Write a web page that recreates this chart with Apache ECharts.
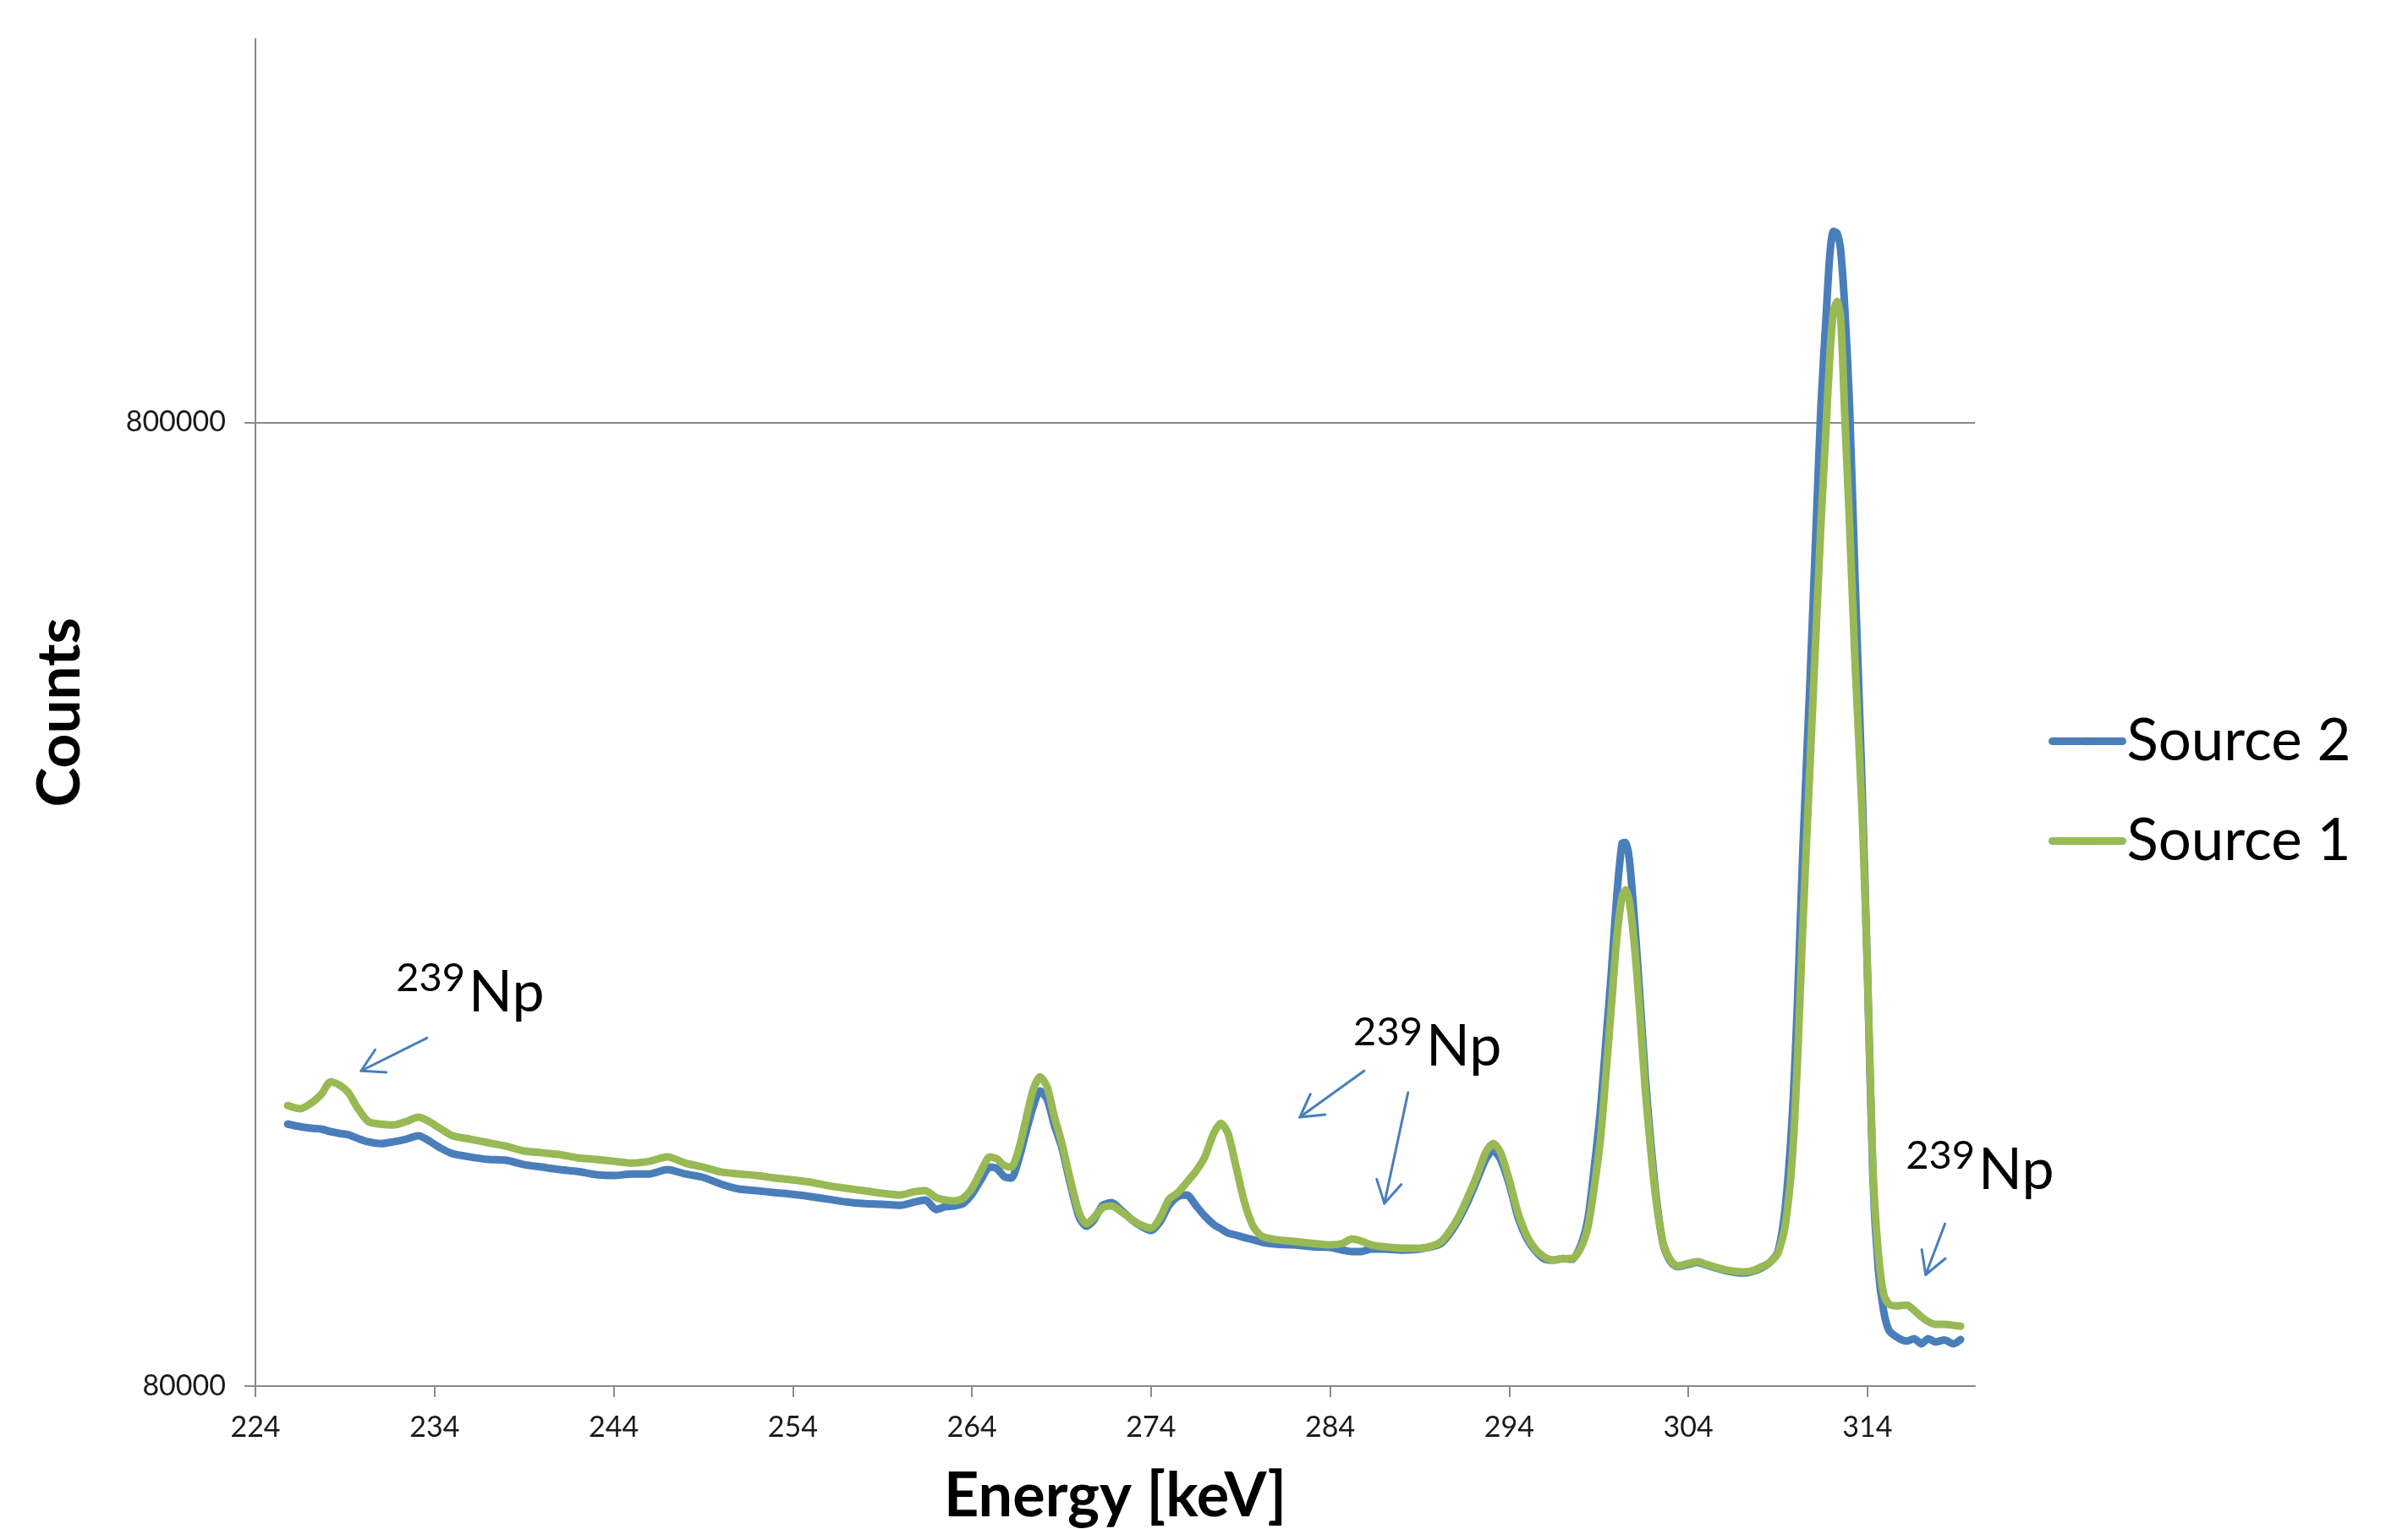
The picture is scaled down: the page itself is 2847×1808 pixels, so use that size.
<!DOCTYPE html>
<html>
<head>
<meta charset="utf-8">
<script src="https://cdn.jsdelivr.net/npm/echarts@6.0.0/dist/echarts.min.js"></script>
<style>
  html, body { margin: 0; padding: 0; background: #fff; }
  #chart { width: 2847px; height: 1808px; }
</style>
</head>
<body>
<div id="chart"></div>
<script>
// energies (keV) shared by both spectra
const energy = [
  225.8, 226.5, 227.2, 227.7, 228.2, 228.7, 229.2, 229.7, 230.3, 231.0,
  231.7, 232.4, 233.1, 233.7, 234.3, 235.0, 236.0, 237.0, 238.0, 239.0,
  240.0, 241.0, 242.0, 243.0, 244.0, 245.0, 246.0, 247.0, 248.0, 249.0,
  250.0, 251.0, 252.0, 253.0, 254.0, 255.0, 256.0, 257.0, 258.0, 259.0,
  260.0, 260.8, 261.4, 262.0, 262.5, 263.0, 263.5, 264.0, 264.5, 265.0,
  265.4, 265.8, 266.2, 266.6, 267.0, 267.4, 267.8, 268.2, 268.6, 269.0,
  269.5, 270.0, 270.4, 270.8, 271.3, 271.8, 272.3, 272.8, 273.3, 274.0,
  274.5, 275.0, 275.5, 276.0, 276.5, 277.0, 277.5, 277.9, 278.3, 278.7,
  279.2, 279.7, 280.2, 281.0, 282.0, 283.0, 284.0, 284.7, 285.2, 285.7,
  286.3, 287.0, 288.0, 289.0, 289.7, 290.2, 290.7, 291.2, 291.7, 292.2,
  292.7, 293.1, 293.5, 294.0, 294.5, 295.0, 295.5, 296.0, 296.5, 297.0,
  297.5, 298.0, 298.4, 298.8, 299.1, 299.4, 299.7, 300.0, 300.3, 300.5,
  300.7, 301.0, 301.3, 301.6, 301.9, 302.2, 302.6, 303.0, 303.4, 304.0,
  304.5, 305.0, 306.0, 307.0, 307.5, 308.1, 308.6, 309.0, 309.4, 309.8,
  310.1, 310.4, 310.8, 311.1, 311.4, 311.7, 311.9, 312.1, 312.3, 312.5,
  312.75, 313.0, 313.3, 313.7, 314.0, 314.3, 314.6, 314.9, 315.2, 315.7,
  316.2, 316.6, 317.0, 317.4, 317.8, 318.3, 318.8, 319.2
];

const source2 = [
  149600, 148700, 148100, 147800, 146900, 146300, 145800, 144600, 143400, 142800,
  143400, 144300, 145500, 143700, 141400, 139400, 138300, 137500, 137200, 135800,
  135000, 134200, 133600, 132600, 132300, 132800, 132800, 134200, 132800, 131700,
  129600, 128100, 127600, 127000, 126500, 125800, 125000, 124200, 123700, 123500,
  123200, 124200, 124800, 122000, 122800, 123000, 123700, 126500, 130900, 135000,
  134500, 132000, 131500, 137200, 146300, 155500, 161900, 158700, 149300, 141900,
  129600, 119600, 117200, 118900, 123200, 124000, 122000, 119600, 117700, 116000,
  118400, 123200, 125800, 126300, 123200, 120100, 117700, 116500, 115300, 114800,
  114100, 113500, 112800, 112300, 112100, 111600, 111400, 110700, 110300, 110300,
  111000, 111000, 110700, 111000, 111600, 112500, 115300, 119300, 124500, 130900,
  137700, 140500, 137700, 129600, 119600, 113700, 110300, 108300, 108100, 108500,
  108300, 112100, 119600, 137700, 155500, 182800, 214800, 257600, 292600, 293200,
  282100, 242500, 202200, 166900, 143400, 125800, 112100, 107700, 106400, 107000,
  107500, 106800, 105500, 104800, 105100, 106100, 107700, 110300, 122000, 152400,
  202200, 290800, 435600, 601700, 831300, 1038200, 1195700, 1262800, 1257600, 1207900,
  1038200, 831300, 555100, 335000, 214800, 132300, 105900, 95800, 91400, 89800,
  89100, 89600, 88500, 89600, 88900, 89300, 88500, 89400
];

const source1 = [
  156400, 155200, 157700, 160900, 165500, 164200, 161200, 155500, 150500, 149600,
  149300, 150500, 152100, 150500, 148100, 145500, 144300, 143100, 141900, 140300,
  139700, 139100, 138000, 137500, 136900, 136300, 136900, 138300, 136300, 135000,
  133400, 132800, 132300, 131500, 130900, 130200, 129100, 128300, 127600, 126800,
  126300, 127300, 127600, 125500, 124800, 124500, 125300, 128300, 133600, 138300,
  137700, 135500, 135000, 140500, 150800, 161900, 167500, 163500, 152400, 143400,
  130900, 120800, 117900, 119600, 122500, 123000, 121500, 119600, 117900, 116700,
  119600, 125000, 127000, 130200, 133600, 138300, 146300, 149900, 146300, 136300,
  124500, 117200, 114400, 113500, 113000, 112500, 112100, 112500, 113700, 113200,
  112100, 111600, 111200, 111200, 111800, 113000, 116000, 120100, 125800, 132300,
  140000, 142800, 140000, 130900, 120800, 114400, 110700, 108800, 108100, 108500,
  108500, 111400, 117200, 130900, 144900, 168600, 197900, 232900, 257600, 261800,
  255000, 228200, 194200, 161900, 140500, 124500, 112500, 108100, 106600, 107200,
  107700, 107000, 105700, 105100, 105300, 106400, 107700, 109900, 117200, 137700,
  175500, 242500, 355900, 472300, 626600, 798400, 938400, 1042400, 1068000, 1027700,
  798400, 626600, 453500, 315300, 214800, 135000, 110300, 99700, 97300, 96900,
  97100, 95900, 94400, 93300, 92700, 92700, 92500, 92300
];

const seriesNames = ['Source 2', 'Source 1'];
const xTicks = [224, 234, 244, 254, 264, 274, 284, 294, 304, 314];
const yTicks = [80000, 800000];

// "239Np" notes: [energy, counts] where the superscript ends
const noteSpots = [[235.71, 204700], [289.16, 179800], [320.0, 133900]];
// arrows: [fromEnergy, fromCounts, toEnergy, toCounts]
const arrowSpots = [
  [233.58, 183800, 229.9, 169900],
  [285.9, 169900, 282.31, 152100],
  [288.35, 161300, 287.03, 123800],
  [318.33, 117900, 317.25, 104400]
];

const BLUE = '#4A7EBB';
const GREEN = '#98B954';
const AXIS = '#8a8a8a';

const chart = echarts.init(document.getElementById('chart'));

const lineSeries = (name, values, color) => ({
  name: name,
  type: 'line',
  data: energy.map((e, i) => [e, values[i]]),
  showSymbol: false,
  symbol: 'none',
  smooth: 0.25,
  color: color,
  lineStyle: { color: color, width: 9, cap: 'round', join: 'round' },
  emphasis: { disabled: true },
  animation: false
});

const option = {
  backgroundColor: '#fff',
  animation: false,
  grid: { left: 302, right: 512, top: 46, bottom: 169, containLabel: false, outerBoundsMode: 'none' },
  legend: {
    data: seriesNames,
    orient: 'vertical',
    left: 2417,
    top: 837,
    itemWidth: 83,
    itemHeight: 12,
    itemGap: 49,
    lineStyle: { width: 9, cap: 'round' },
    textStyle: { fontFamily: 'Lato', fontSize: 69, color: '#000' },
    selectedMode: false
  },
  xAxis: {
    type: 'value',
    min: 224,
    max: 320,
    name: 'Energy [keV]',
    nameLocation: 'middle',
    nameGap: 131,
    nameTextStyle: { fontFamily: 'Lato', fontWeight: 'bold', fontSize: 72, color: '#000', verticalAlign: 'middle' },
    axisLine: { show: true, onZero: false, lineStyle: { color: AXIS, width: 2 } },
    axisTick: { show: true, inside: false, length: 13, customValues: xTicks, lineStyle: { color: AXIS, width: 2 } },
    axisLabel: { customValues: xTicks, margin: 32, fontFamily: 'Lato', fontSize: 34, color: '#1a1a1a',
                 formatter: v => String(v) },
    splitLine: { show: false }
  },
  yAxis: {
    type: 'log',
    logBase: 10,
    min: 80000,
    max: 2000000,
    name: 'Counts',
    nameLocation: 'middle',
    nameGap: 231,
    nameRotate: 90,
    nameTextStyle: { fontFamily: 'Lato', fontWeight: 'bold', fontSize: 71, color: '#000', verticalAlign: 'middle' },
    axisLine: { show: true, onZero: false, lineStyle: { color: AXIS, width: 2 } },
    axisTick: { show: true, inside: false, length: 13, customValues: yTicks, lineStyle: { color: AXIS, width: 2 } },
    axisLabel: { customValues: yTicks, margin: 35, fontFamily: 'Lato', fontSize: 34, color: '#1a1a1a',
                 formatter: v => String(Math.round(v)) },
    splitLine: { show: true, lineStyle: { color: AXIS, width: 2 } }
  },
  series: [
    lineSeries(seriesNames[0], source2, BLUE),
    lineSeries(seriesNames[1], source1, GREEN)
  ]
};

chart.setOption(option);

// annotations placed through the chart's own scales
const toPx = (e, c) => chart.convertToPixel({ gridIndex: 0 }, [e, c]);
const graphics = [];

noteSpots.forEach(([e, c]) => {
  const p = toPx(e, c);
  graphics.push({
    type: 'text', x: p[0], y: p[1] - 17, silent: true,
    style: { text: '239', fontFamily: 'Lato', fontSize: 47, fill: '#000', align: 'right', verticalAlign: 'middle' }
  });
  graphics.push({
    type: 'text', x: p[0] + 4, y: p[1], silent: true,
    style: { text: 'Np', fontFamily: 'Lato', fontSize: 68, fill: '#000', align: 'left', verticalAlign: 'middle' }
  });
});

arrowSpots.forEach(([e0, c0, e1, c1]) => {
  const from = toPx(e0, c0);
  const tip = toPx(e1, c1);
  const a = Math.atan2(from[1] - tip[1], from[0] - tip[0]);
  const len = 30, spread = 0.52;
  const w1 = [tip[0] + len * Math.cos(a + spread), tip[1] + len * Math.sin(a + spread)];
  const w2 = [tip[0] + len * Math.cos(a - spread), tip[1] + len * Math.sin(a - spread)];
  graphics.push({
    type: 'polyline', silent: true,
    shape: { points: [from, tip] },
    style: { stroke: BLUE, lineWidth: 3, fill: null, lineCap: 'round' }
  });
  graphics.push({
    type: 'polyline', silent: true,
    shape: { points: [w1, tip, w2] },
    style: { stroke: BLUE, lineWidth: 3, fill: null, lineCap: 'round', lineJoin: 'round' }
  });
});

chart.setOption({ graphic: graphics });
</script>
</body>
</html>
